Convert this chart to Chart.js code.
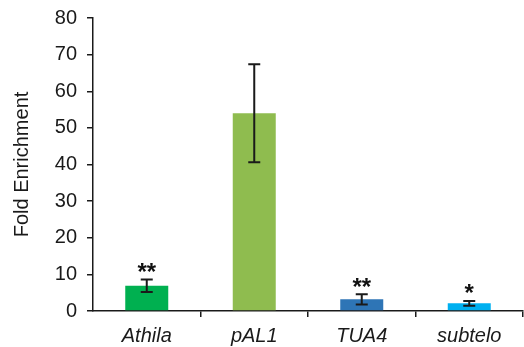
<!DOCTYPE html>
<html>
<head>
<meta charset="utf-8">
<script src="https://cdn.jsdelivr.net/npm/chart.js@4.4.0/dist/chart.umd.min.js"></script>
<style>
  html, body { margin: 0; padding: 0; background: #fff; }
  #wrap { width: 524px; height: 347px; }
</style>
</head>
<body>
<div id="wrap"><canvas id="myChart"></canvas></div>
<script>
const categories = ['Athila', 'pAL1', 'TUA4', 'subtelo'];
const enrichment = [6.9, 54.0, 3.2, 2.1];
const errors = [1.7, 13.4, 1.4, 0.65];
const stars = ['**', '', '**', '*'];
const yTicks = [0, 10, 20, 30, 40, 50, 60, 70, 80];
const barColors = ['#00b050', '#8fbc4f', '#2e75b6', '#00b0f0'];

// error bars + significance marks
const errorBarPlugin = {
  id: 'errorBars',
  afterDatasetsDraw(chart) {
    const ctx = chart.ctx;
    const x = chart.scales.x, y = chart.scales.y;
    ctx.save();
    ctx.strokeStyle = '#1a1a1a';
    ctx.lineWidth = 2;
    enrichment.forEach((v, i) => {
      const cx = x.getPixelForValue(i);
      const top = y.getPixelForValue(v + errors[i]);
      const bot = y.getPixelForValue(v - errors[i]);
      ctx.beginPath();
      ctx.moveTo(cx, top); ctx.lineTo(cx, bot);
      ctx.moveTo(cx - 6, top); ctx.lineTo(cx + 6, top);
      ctx.moveTo(cx - 6, bot); ctx.lineTo(cx + 6, bot);
      ctx.stroke();
      if (stars[i]) {
        ctx.fillStyle = '#111';
        ctx.font = 'bold 24px "Liberation Sans", Arial';
        ctx.textAlign = 'center';
        ctx.textBaseline = 'alphabetic';
        ctx.fillText(stars[i], cx, top + 0.5);
      }
    });
    ctx.restore();
  }
};

const data = {
  labels: categories,
  datasets: [{
    data: enrichment,
    backgroundColor: barColors,
    borderWidth: 0,
    categoryPercentage: 1.0,
    barPercentage: 0.4
  }]
};

const config = {
  type: 'bar',
  data,
  plugins: [errorBarPlugin],
  options: {
    responsive: true,
    maintainAspectRatio: false,
    animation: false,
    layout: { padding: { top: 18, right: 1, left: 0, bottom: 0 } },
    plugins: {
      legend: { display: false },
      tooltip: { enabled: false }
    },
    scales: {
      y: {
        min: 0,
        max: 80,
        afterFit: s => { s.width = 93; s.paddingTop = 0; s.paddingBottom = 0; },
        afterBuildTicks: s => { s.ticks = yTicks.map(v => ({ value: v })); },
        border: { display: true, color: '#1a1a1a', width: 1.5 },
        grid: { drawOnChartArea: false, drawTicks: true, tickLength: 6, color: '#1a1a1a', lineWidth: 1.5 },
        ticks: {
          color: '#1a1a1a',
          padding: 10,
          font: { family: '"Liberation Sans", Arial', size: 20 }
        },
        title: {
          display: true,
          text: 'Fold Enrichment',
          color: '#1a1a1a',
          padding: { top: 10, bottom: 4 },
          font: { family: '"Liberation Sans", Arial', size: 20 }
        }
      },
      x: {
        afterFit: s => { s.height = 36; s.paddingLeft = 0; s.paddingRight = 0; },
        border: { display: true, color: '#1a1a1a', width: 1.5 },
        grid: {
          offset: true,
          drawOnChartArea: false,
          drawTicks: true,
          tickLength: 6,
          lineWidth: 1.5,
          color: c => (c.index === 0 || c.index === categories.length) ? 'rgba(0,0,0,0)' : '#1a1a1a'
        },
        ticks: {
          color: '#1a1a1a',
          padding: 7,
          font: { family: '"Liberation Sans", Arial', size: 20, style: 'italic' }
        }
      }
    }
  }
};

new Chart(document.getElementById('myChart'), config);
</script>
</body>
</html>
